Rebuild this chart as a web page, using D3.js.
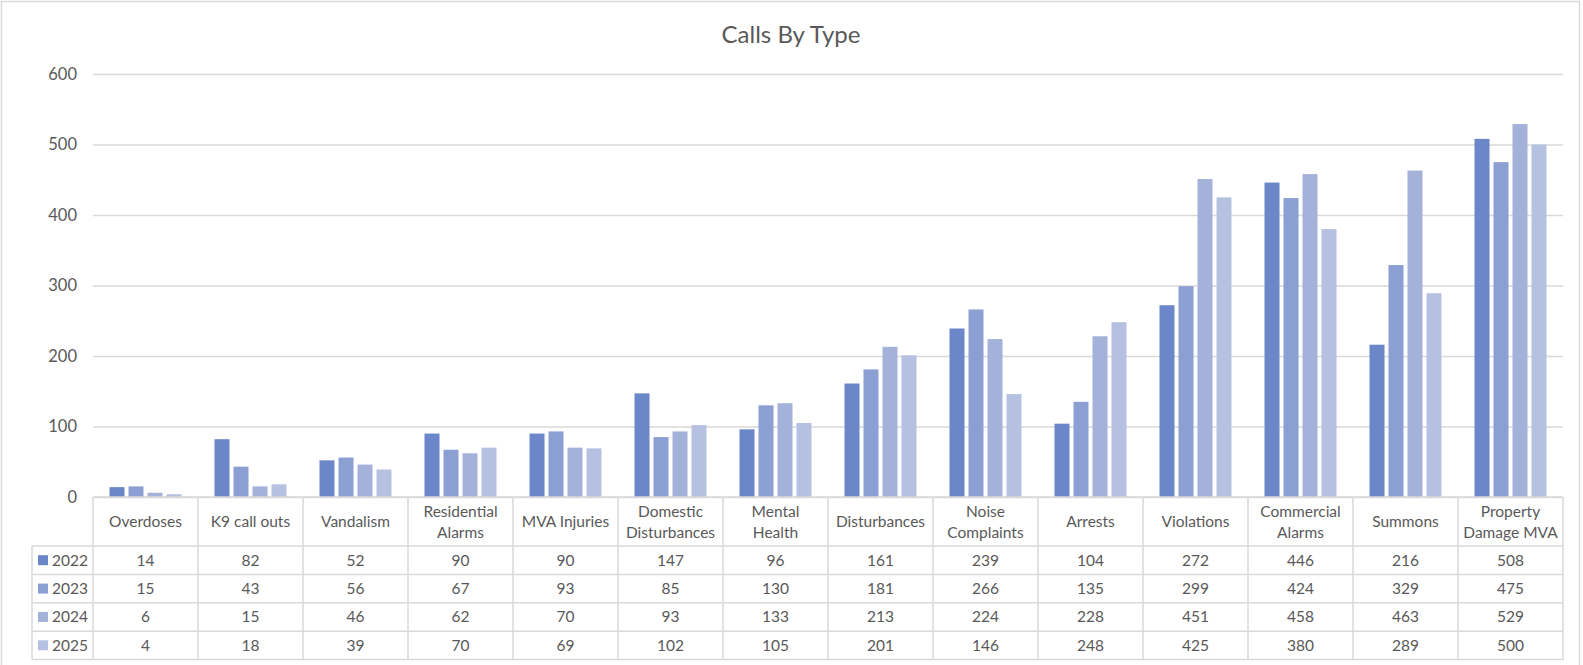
<!DOCTYPE html>
<html>
<head>
<meta charset="utf-8">
<script src="https://cdn.jsdelivr.net/npm/d3@7"></script>
<style>
  html, body { margin: 0; padding: 0; background: #ffffff; }
  svg { display: block; font-family: Lato, "Liberation Sans", sans-serif; }
</style>
</head>
<body>
<svg id="chart" width="1583" height="665"></svg>
<script>

/*************************** Data ***************************/

var categories = ["Overdoses", "K9 call outs", "Vandalism", "Residential Alarms", "MVA Injuries",
  "Domestic Disturbances", "Mental Health", "Disturbances", "Noise Complaints", "Arrests",
  "Violations", "Commercial Alarms", "Summons", "Property Damage MVA"];

// header cells wrap like in the original sheet
var category_lines = [["Overdoses"], ["K9 call outs"], ["Vandalism"], ["Residential", "Alarms"], ["MVA Injuries"],
  ["Domestic", "Disturbances"], ["Mental", "Health"], ["Disturbances"], ["Noise", "Complaints"], ["Arrests"],
  ["Violations"], ["Commercial", "Alarms"], ["Summons"], ["Property", "Damage MVA"]];

var years = ["2022", "2023", "2024", "2025"];

var values_2022 = [14, 82, 52, 90, 90, 147, 96, 161, 239, 104, 272, 446, 216, 508];
var values_2023 = [15, 43, 56, 67, 93, 85, 130, 181, 266, 135, 299, 424, 329, 475];
var values_2024 = [6, 15, 46, 62, 70, 93, 133, 213, 224, 228, 451, 458, 463, 529];
var values_2025 = [4, 18, 39, 70, 69, 102, 105, 201, 146, 248, 425, 380, 289, 500];

var y_ticks = [0, 100, 200, 300, 400, 500, 600];

var series = [values_2022, values_2023, values_2024, values_2025];
var colors = ["#6b86c9", "#8b9fd3", "#a4b2d9", "#b6c1e2"];

/*************************** Setup ***************************/

var svg = d3.select("#chart");
var text_color = "#595959", line_color = "#d9d9d9";

// outer frame
svg.append("rect")
  .attr("x", 1.5).attr("y", 1.5).attr("width", 1578).attr("height", 670)
  .style("fill", "none").style("stroke", line_color).style("stroke-width", 1.5);

var x0 = d3.scaleBand().domain(categories).range([93, 1563]).padding(0);
var x1 = d3.scaleBand().domain(years).range([16.5, x0.bandwidth() - 16.5]).paddingInner(0.21);
var y = d3.scaleLinear().domain([0, 600]).range([497, 74]);
var row = d3.scaleBand().domain(years).range([546, 659.5]);

/*************************** Title ***************************/

svg.append("text")
  .attr("x", 791).attr("y", 43)
  .attr("text-anchor", "middle")
  .style("font-size", "24px").style("fill", text_color)
  .text("Calls By Type");

/*************************** Y axis + grid ***************************/

var y_axis = d3.axisLeft(y).tickValues(y_ticks).tickSize(-(1563 - 93)).tickPadding(16);
var gy = svg.append("g").attr("transform", "translate(93,0)").call(y_axis)
  .attr("font-family", null).attr("font-size", null);
gy.select(".domain").remove();
gy.selectAll(".tick line").style("stroke", line_color).style("stroke-width", 1.5);
gy.selectAll(".tick text").style("font-size", "16.5px").style("fill", text_color);

/*************************** Bars ***************************/

var groups = svg.append("g").selectAll("g")
  .data(categories)
  .enter().append("g")
  .attr("transform", function(d){ return "translate(" + x0(d) + ",0)"; });

groups.selectAll("rect")
  .data(function(d, i){ return years.map(function(yr, j){ return { year: yr, value: series[j][i], color: colors[j] }; }); })
  .enter().append("rect")
  .attr("x", function(d){ return x1(d.year); })
  .attr("width", x1.bandwidth())
  .attr("y", function(d){ return y(d.value); })
  .attr("height", function(d){ return y(0) - y(d.value); })
  .style("fill", function(d){ return d.color; });

/*************************** Data table ***************************/

var table = svg.append("g").style("font-size", "15.5px").style("fill", text_color);
var left = 32, right = 1563, top_y = 497, head_bottom = row.range()[0], bottom = row.range()[1];

// horizontal lines
var h_lines = [{ y: top_y, x1: 93 }, { y: head_bottom, x1: left }];
years.forEach(function(yr){ h_lines.push({ y: row(yr) + row.bandwidth(), x1: left }); });
table.selectAll("line.h").data(h_lines).enter().append("line")
  .attr("x1", function(d){ return d.x1; }).attr("x2", right)
  .attr("y1", function(d){ return d.y; }).attr("y2", function(d){ return d.y; })
  .style("stroke", line_color).style("stroke-width", 1.5);

// vertical lines
var v_lines = [{ x: left, y1: head_bottom }];
categories.forEach(function(c){ v_lines.push({ x: x0(c), y1: top_y }); });
v_lines.push({ x: right, y1: top_y });
table.selectAll("line.v").data(v_lines).enter().append("line")
  .attr("x1", function(d){ return d.x; }).attr("x2", function(d){ return d.x; })
  .attr("y1", function(d){ return d.y1; }).attr("y2", bottom)
  .style("stroke", line_color).style("stroke-width", 1.5);

// header labels
var head_mid = (top_y + head_bottom) / 2;
categories.forEach(function(c, i){
  var lines = category_lines[i];
  var t = table.append("text").attr("text-anchor", "middle");
  lines.forEach(function(l, k){
    t.append("tspan")
      .attr("x", x0(c) + x0.bandwidth() / 2)
      .attr("y", head_mid + 5.5 + (k - (lines.length - 1) / 2) * 21)
      .text(l);
  });
});

// legend keys + values
years.forEach(function(yr, j){
  var cy = row(yr) + row.bandwidth() / 2;
  table.append("rect")
    .attr("x", 38).attr("y", cy - 5).attr("width", 10).attr("height", 10)
    .style("fill", colors[j]);
  table.append("text").attr("x", 52).attr("y", cy + 5.5).text(yr);

  table.selectAll("text.v" + yr).data(categories).enter().append("text")
    .attr("text-anchor", "middle")
    .attr("x", function(c){ return x0(c) + x0.bandwidth() / 2; })
    .attr("y", cy + 5.5)
    .text(function(c, i){ return series[j][i]; });
});

</script>
</body>
</html>
